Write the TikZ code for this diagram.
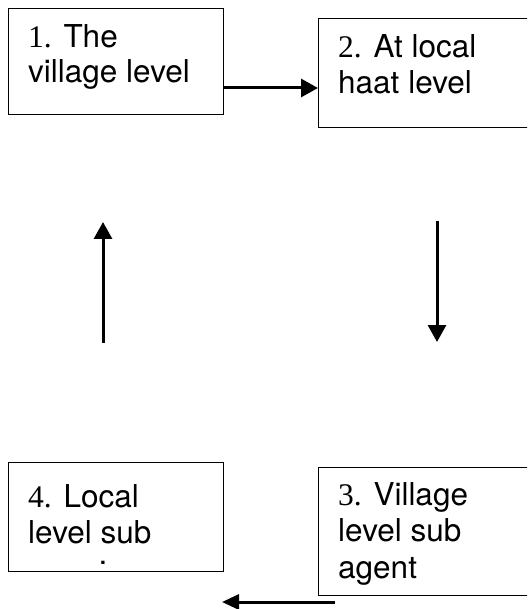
\documentclass[tikz,border=0pt]{standalone}
\usepackage{fontspec}
\setmainfont{TeX Gyre Heros}
\newfontfamily\numfont{Liberation Serif}
\usetikzlibrary{arrows.meta}
\tikzset{
  box/.style={draw=black, line width=1.4pt, rectangle, anchor=north west, inner sep=0pt},
  label/.style={anchor=base west, inner sep=0pt, font=\fontsize{31.5}{36}\selectfont},
  flow/.style={line width=3pt, -{Triangle[length=17pt,width=18pt]}},
}
\begin{document}
\begin{tikzpicture}[x=1pt,y=-1pt]
\useasboundingbox (0,0) rectangle (527,609);
\clip (0,0) rectangle (527,609);
% boxes
\node[box, minimum width=215pt, minimum height=106pt] (b1) at (8,8) {};
\node[box, minimum width=215pt, minimum height=109pt] (b2) at (318,18) {};
\node[box, minimum width=215pt, minimum height=128pt] (b3) at (318,467) {};
\node[box, minimum width=215pt, minimum height=109pt] (b4) at (8,462) {};
% texts
\node[label] (t1a) at (28,48) {{\numfont 1.} The};
\node[label] (t1b) at (28,83) {village level};
\node[label] (t2a) at (338,58) {{\numfont 2.} At local};
\node[label] (t2b) at (338,94) {haat level};
\node[label] (t3a) at (338,505) {{\numfont 3.} Village};
\node[label] (t3b) at (338,541) {level sub};
\node[label] (t3c) at (338,578) {agent};
\node[label] (t4a) at (28,507) {{\numfont 4.} Local};
\node[label] (t4b) at (28,543) {level sub};
\node[label, anchor=base, text height=4pt, text depth=0pt] (t4c) at (103,564) {.};
% connectors
\coordinate (h12) at (223,88);
\draw[flow] (h12) -- (b2.west |- h12);
\coordinate (d1) at (437,221);
\coordinate (d2) at (437,342);
\draw[flow] (d1) -- (d2);
\coordinate (u1) at (103,343);
\coordinate (u2) at (103,222);
\draw[flow] (u1) -- (u2);
\coordinate (l1) at (335,602);
\coordinate (l2) at (222,602);
\draw[flow, -{Triangle[length=17pt,width=15pt]}] (l1) -- (l2);
\end{tikzpicture}
\end{document}
